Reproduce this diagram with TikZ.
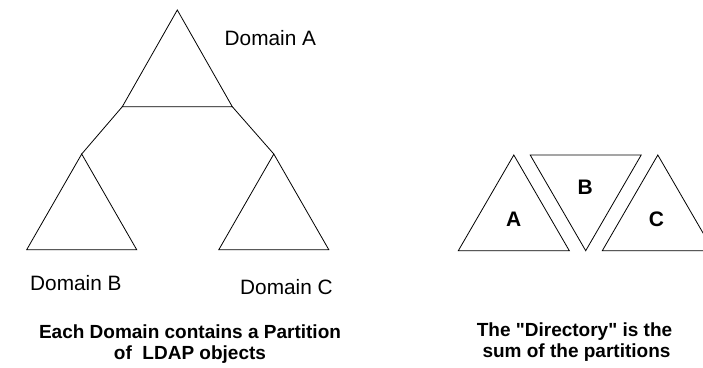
\documentclass[tikz,border=0pt]{standalone}
\usepackage{fontspec}
\setmainfont{Liberation Sans}[Ligatures=TeXOff]
\begin{document}
\begin{tikzpicture}[x=1pt,y=-1pt,
  tri/.style={draw=black,line width=0.8pt,line join=miter},
  link/.style={draw=black,line width=0.8pt},
  domlabel/.style={inner sep=0pt,anchor=base west,font=\fontsize{20.8}{24}\selectfont},
  letter/.style={inner sep=0pt,anchor=base,font=\fontsize{21}{24}\selectfont\bfseries},
  caption/.style={inner sep=0pt,anchor=base,font=\fontsize{19}{21}\selectfont\bfseries}]
\useasboundingbox (0,0) rectangle (703,367);
\clip (0,0) rectangle (703,367);
% Domain A triangle
\coordinate (Atop) at (177.3,10);
\coordinate (Abl) at (122.3,106.7);
\coordinate (Abr) at (232.3,106.7);
\draw[tri] (Atop) -- (Abl) -- (Abr) -- cycle;
% Domain B triangle
\coordinate (Btop) at (81.7,154);
\coordinate (Bbl) at (26.7,249.7);
\coordinate (Bbr) at (136.7,249.7);
\draw[tri] (Btop) -- (Bbl) -- (Bbr) -- cycle;
% Domain C triangle
\coordinate (Ctop) at (273.8,154);
\coordinate (Cbl) at (218.8,249.7);
\coordinate (Cbr) at (328.8,249.7);
\draw[tri] (Ctop) -- (Cbl) -- (Cbr) -- cycle;
% links
\draw[link] (Abl) -- (Btop);
\draw[link] (Abr) -- (Ctop);
% labels
\node[domlabel] (labA) at (224.5,45.7) {Domain A};
\node[domlabel] (labB) at (30,290) {Domain B};
\node[domlabel] (labC) at (240,294) {Domain C};
% partitions
\coordinate (pAtop) at (513.8,155);
\coordinate (pAbl) at (458.3,250.7);
\coordinate (pAbr) at (569.3,250.7);
\draw[tri] (pAtop) -- (pAbl) -- (pAbr) -- cycle;
\coordinate (pBtl) at (530.2,155);
\coordinate (pBtr) at (641.2,155);
\coordinate (pBbot) at (585.7,250.7);
\draw[tri] (pBtl) -- (pBtr) -- (pBbot) -- cycle;
\coordinate (pCtop) at (657.8,155);
\coordinate (pCbl) at (602.3,250.7);
\coordinate (pCbr) at (713.3,250.7);
\draw[tri] (pCtop) -- (pCbl) -- (pCbr) -- cycle;
\node[letter] (letA) at (513.7,226) {A};
\node[letter] (letB) at (585.3,194) {B};
\node[letter] (letC) at (656.5,226) {C};
% captions
\node[caption] (capL1) at (190,338.3) {Each Domain contains a Partition};
\node[caption] (capL2) at (190,359.3) {of\ \ LDAP objects};
\node[caption] (capR1) at (574.5,336.7) {The "Directory" is the};
\node[caption] (capR2) at (576.5,357.7) {sum of the partitions};
\end{tikzpicture}
\end{document}
